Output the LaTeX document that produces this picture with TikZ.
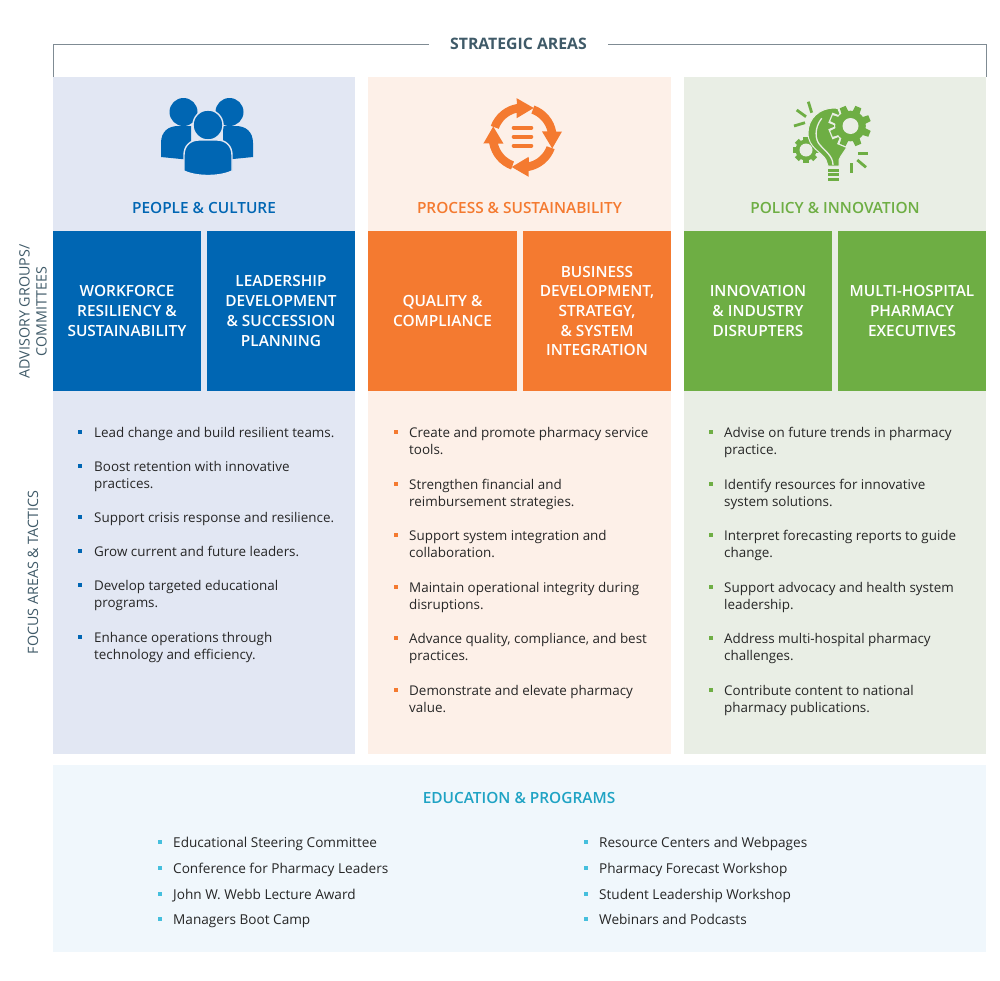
\documentclass[tikz,border=0pt]{standalone}
\usepackage{fontspec}
\setmainfont{Open Sans}
\newfontfamily\semifont{Open Sans Semibold}
\definecolor{peopleblue}{HTML}{0066B3}
\definecolor{processorange}{HTML}{F47A30}
\definecolor{policygreen}{HTML}{6EAE44}
\definecolor{peoplepale}{HTML}{E2E7F3}
\definecolor{processpale}{HTML}{FDF0E8}
\definecolor{policypale}{HTML}{E9EEE5}
\definecolor{edupale}{HTML}{F0F7FC}
\definecolor{eduhead}{HTML}{1FA3C4}
\definecolor{edutick}{HTML}{45BFDD}
\definecolor{slatetext}{HTML}{3F5A68}
\definecolor{framegrey}{HTML}{7F8B93}
\tikzset{
  panel/.style={draw=none,inner sep=0,outer sep=0,anchor=north west},
  sidelabel/.style={rotate=90,align=center,text=slatetext,font=\fontsize{14.3}{17}\selectfont},
  areahead/.style={font=\semifont\fontsize{15.4}{18}\selectfont},
  groupbox/.style={panel,text=white,align=center,font=\semifont\fontsize{15.4}{19.7}\selectfont},
  tactic/.style={anchor=north west,inner sep=0,yshift=6.6pt,align=left,text=black!85,
    font=\fontsize{13.42}{17}\selectfont},
  tick/.style={inner sep=0,minimum size=4pt},
}
\begin{document}
\begin{tikzpicture}[x=1pt,y=-1pt]
  \useasboundingbox (0,0) rectangle (1000,980);
  % frame
  \node[font=\bfseries\fontsize{15.8}{18}\selectfont,text=slatetext] (stratitle) at (518.5,44) {STRATEGIC AREAS};
  \coordinate (frameleft) at (53,77);
  \coordinate (frameright) at (986,77);
  \draw[framegrey,line width=1pt] (stratitle.west)+(-18,0) -| (frameleft);
  \draw[framegrey,line width=1pt] (stratitle.east)+(18,0) -| (frameright);
  % pale columns
  \node[panel,fill=peoplepale,minimum width=302pt,minimum height=677pt] (peoplecol) at (53,77) {};
  \node[panel,fill=processpale,minimum width=303pt,minimum height=677pt] (processcol) at (368,77) {};
  \node[panel,fill=policypale,minimum width=302pt,minimum height=677pt] (policycol) at (684,77) {};
  \node[panel,fill=edupale,minimum width=933pt,minimum height=187pt] (educol) at (53,765) {};
  % side labels
  \node[sidelabel] (advisory) at (33,311.5) {ADVISORY GROUPS/\\COMMITTEES};
  \node[sidelabel] (focus) at (33,572.5) {FOCUS AREAS \& TACTICS};
  % heads
  \node[areahead,text=peopleblue] (peoplehead) at (204,208) {PEOPLE \& CULTURE};
  \node[areahead,text=processorange] (processhead) at (519.5,208) {PROCESS \& SUSTAINABILITY};
  \node[areahead,text=policygreen] (policyhead) at (835,208) {POLICY \& INNOVATION};
  % group boxes
  \tikzset{groupbox/.append style={minimum height=160pt,minimum width=148pt}}
  \node[groupbox,fill=peopleblue] (workforce) at (53,231) {WORKFORCE\\RESILIENCY \&\\SUSTAINABILITY};
  \node[groupbox,fill=peopleblue] (leadership) at (207,231) {LEADERSHIP\\DEVELOPMENT\\\& SUCCESSION\\PLANNING};
  \node[groupbox,fill=processorange,minimum width=149pt] (quality) at (368,231) {QUALITY \&\\COMPLIANCE};
  \node[groupbox,fill=processorange] (business) at (523,231) {BUSINESS\\DEVELOPMENT,\\STRATEGY,\\\& SYSTEM\\INTEGRATION};
  \node[groupbox,fill=policygreen] (disrupters) at (684,231) {INNOVATION\\\& INDUSTRY\\DISRUPTERS};
  \node[groupbox,fill=policygreen] (executives) at (838,231) {MULTI-HOSPITAL\\PHARMACY\\EXECUTIVES};
  % tactics
  \foreach \y/\t [count=\n] in {432/{Lead change and build resilient teams.},
      466/{Boost retention with innovative\\practices.},
      517/{Support crisis response and resilience.},
      551/{Grow current and future leaders.},
      585/{Develop targeted educational\\programs.},
      637/{Enhance operations through\\technology and efficiency.}} {
    \node[tactic] (peopleitem\n) at (94,\y) {\strut\t};
    \node[tick,fill=peopleblue] (peopletick\n) at (80,\y) {};
  }
  \foreach \y/\t [count=\n] in {432/{Create and promote pharmacy service\\tools.},
      484/{Strengthen financial and\\reimbursement strategies.},
      535/{Support system integration and\\collaboration.},
      587/{Maintain operational integrity during\\disruptions.},
      638/{Advance quality, compliance, and best\\practices.},
      690/{Demonstrate and elevate pharmacy\\value.}} {
    \node[tactic] (processitem\n) at (409,\y) {\strut\t};
    \node[tick,fill=processorange] (processtick\n) at (396,\y) {};
  }
  \foreach \y/\t [count=\n] in {432/{Advise on future trends in pharmacy\\practice.},
      484/{Identify resources for innovative\\system solutions.},
      535/{Interpret forecasting reports to guide\\change.},
      587/{Support advocacy and health system\\leadership.},
      638/{Address multi-hospital pharmacy\\challenges.},
      690/{Contribute content to national\\pharmacy publications.}} {
    \node[tactic] (policyitem\n) at (724,\y) {\strut\t};
    \node[tick,fill=policygreen] (policytick\n) at (711,\y) {};
  }
  % education
  \node[areahead,text=eduhead] (eduhead) at (519,798) {EDUCATION \& PROGRAMS};
  \tikzset{tactic/.append style={font=\fontsize{13.6}{17}\selectfont}}
  \foreach \y/\s/\r [count=\n] in {842/{Educational Steering Committee}/{Resource Centers and Webpages},
      868/{Conference for Pharmacy Leaders}/{Pharmacy Forecast Workshop},
      894/{John W. Webb Lecture Award}/{Student Leadership Workshop},
      919/{Managers Boot Camp}/{Webinars and Podcasts}} {
    \node[tactic] (eduleft\n) at (173,\y) {\strut\s};
    \node[tick,fill=edutick] (edutickl\n) at (160,\y) {};
    \node[tactic] (eduright\n) at (599,\y) {\strut\r};
    \node[tick,fill=edutick] (edutickr\n) at (586,\y) {};
  }
  % people icon
  \fill[peopleblue] (161,157) -- (161,143) .. controls (161,132) and (168,126) .. (178,126) -- (191,126) -- (191,160) -- cycle;
  \fill[peopleblue] (253,157) -- (253,143) .. controls (253,132) and (246,126) .. (236,126) -- (223,126) -- (223,160) -- cycle;
  \fill[peopleblue] (183.5,112) circle (14);
  \fill[peopleblue] (229.5,112) circle (14);
  \filldraw[fill=peopleblue,draw=peoplepale,line width=1.4pt] (208,125) circle (15);
  \filldraw[fill=peopleblue,draw=peoplepale,line width=1.4pt] (184,171) -- (184,155) .. controls (184,146) and (190,140) .. (199,140)
    -- (217,140) .. controls (226,140) and (232,146) .. (232,155) -- (232,171) .. controls (220,177) and (196,177) .. (184,171) -- cycle;
  % cycle icon
  \foreach \a in {0,-90,-180,-270} {
    \begin{scope}[shift={(522.7,137.5)},y=1pt,rotate=\a]
      \fill[processorange] (160:34) arc (160:100:34) -- (-6,39.3) -- (11,29.5) -- (-6,19.3) -- (104:25.5) arc (104:160:25.5) -- cycle;
    \end{scope}
  }
  \foreach \y in {127.7,136.7,145.7}
    \draw[processorange,line width=4pt,line cap=round] (513.7,\y) -- (531.3,\y);
  % bulb icon
  \foreach \a in {0,45,...,315} {
    \begin{scope}[shift={(806,150)},y=1pt,rotate=\a]
      \fill[policygreen] (-2.8,0) rectangle (2.8,13);
    \end{scope}
  }
  \fill[policygreen] (806,150) circle (10.5);
  \fill[policypale] (806,150) circle (6.5);
  \filldraw[fill=policygreen,draw=policypale,line width=1pt] (828,166) -- (826,160) .. controls (822,152) and (808,148) .. (808,133)
    .. controls (808,118) and (820,108) .. (834,108) .. controls (845,108) and (850,118) .. (850,133)
    .. controls (850,148) and (842,152) .. (839,160) -- (839,166) -- cycle;
  \draw[policypale,line width=1.3pt] (821.7,118.3) .. controls (814,128) and (815,140) .. (820,145) .. controls (825,151) and (833,156) .. (833,165);
  \foreach \a in {0,45,...,315} {
    \begin{scope}[shift={(850.5,126)},y=1pt,rotate=\a+22.5]
      \fill[policypale] (-5.5,10) rectangle (5.5,21.8);
    \end{scope}
  }
  \fill[policypale] (850.5,126) circle (16.5);
  \foreach \a in {0,45,...,315} {
    \begin{scope}[shift={(850.5,126)},y=1pt,rotate=\a+22.5]
      \fill[policygreen] (-4,10) -- (-3.2,20.5) -- (3.2,20.5) -- (4,10) -- cycle;
    \end{scope}
  }
  \fill[policygreen] (850.5,126) circle (15.3);
  \fill[policypale] (850.5,126) circle (8);
  \foreach \y in {170,174.5,179}
    \draw[policygreen,line width=3pt] (828,\y) -- (839,\y);
  \foreach \xa/\ya/\xb/\yb in {796.7/110/806/116.7, 808.3/101.7/811.7/112.7, 794/126/805/122.7,
      858.3/153.3/868.3/153.3, 857.3/160/866/167.3, 851.7/163.3/851.7/172.7}
    \draw[policygreen,line width=2.8pt] (\xa,\ya) -- (\xb,\yb);
\end{tikzpicture}
\end{document}
